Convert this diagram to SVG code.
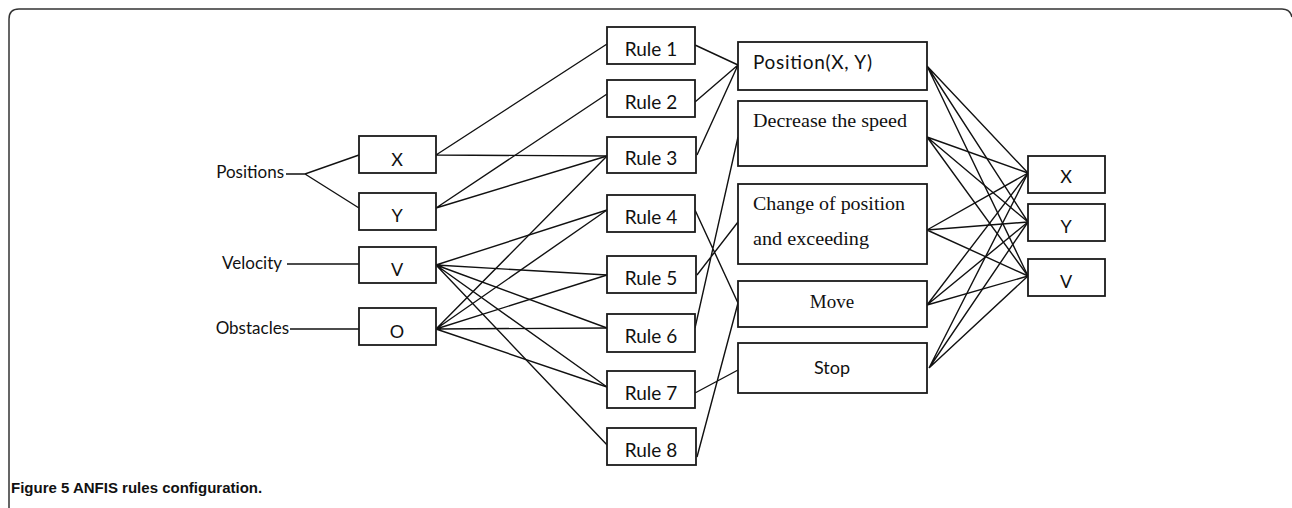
<svg xmlns="http://www.w3.org/2000/svg" width="1292" height="508" viewBox="0 0 1292 508">
<style>
.box{fill:#fff;stroke:#1a1a1a;stroke-width:1.8}
.ln{fill:none;stroke:#111;stroke-width:1.4}
.sans{font-family:Lato,"Open Sans","Liberation Sans",sans-serif;fill:#111}
.serif{font-family:"Liberation Serif","DejaVu Serif",serif;fill:#111}
.r{font-size:19px;text-anchor:middle}
.lbl{font-size:17px;text-anchor:end}
.io{font-size:18px;text-anchor:middle}
.cap{font-family:"Liberation Sans",Arial,sans-serif;font-weight:bold;font-size:15px;fill:#111}
</style>
<rect width="1292" height="508" fill="#fff"/>
<path d="M9,508 V19 Q9,9 19,9 H1282 Q1290,9 1292,17" fill="none" stroke="#333" stroke-width="1.5"/>
<g id="connectors" class="ln">
<path d="M286,174 H305 L359,155 M305,174 L359,208"/>
<path d="M287,264 H359"/>
<path d="M290,329 H359"/>
<path d="M436,155 L607,44 M436,155 L607,156"/>
<path d="M436,208 L607,94 M436,208 L607,156"/>
<path d="M436,265 L607,210 M436,265 L607,275 M436,265 L607,328 M436,265 L607,387 M436,265 L609,447"/>
<path d="M436,329 L607,156 M436,329 L607,210 M436,329 L607,275 M436,329 L607,328 M436,329 L607,387"/>
<path d="M695,45 L738,65 M695,102 L738,65 M697,155 L738,65"/>
<path d="M695,210 L738,303 M697,275 L738,222 M695,328 L738,137 M695,393 L738,370 M697,457 L738,303"/>
<path d="M927,66 L1028,173 M927,66 L1028,222 M927,66 L1028,276"/>
<path d="M927,137 L1028,173 M927,137 L1028,222 M927,137 L1028,276"/>
<path d="M927,230 L1028,173 M927,230 L1028,222 M927,230 L1028,276"/>
<path d="M927,305 L1028,173 M927,305 L1028,222 M927,305 L1028,276"/>
<path d="M929,368 L1028,173 M929,368 L1028,222 M929,368 L1028,276"/>
</g>
<g id="label-positions"><text class="sans lbl" x="284" y="178">Positions</text></g>
<g id="label-velocity"><text class="sans lbl" x="282" y="269">Velocity</text></g>
<g id="label-obstacles"><text class="sans lbl" x="289" y="334">Obstacles</text></g>
<g id="in-x"><rect class="box" x="359" y="136" width="77" height="37"/><text class="sans io" x="397" y="166">X</text></g>
<g id="in-y"><rect class="box" x="359" y="193" width="77" height="37"/><text class="sans io" x="397" y="222">Y</text></g>
<g id="in-v"><rect class="box" x="359" y="247" width="77" height="36"/><text class="sans io" x="397" y="276">V</text></g>
<g id="in-o"><rect class="box" x="359" y="308" width="77" height="37"/><text class="sans io" x="397" y="338">O</text></g>
<g id="rule1"><rect class="box" x="607" y="27" width="88" height="37"/><text class="sans r" x="651" y="56">Rule 1</text></g>
<g id="rule2"><rect class="box" x="607" y="80" width="88" height="37"/><text class="sans r" x="651" y="109">Rule 2</text></g>
<g id="rule3"><rect class="box" x="607" y="137" width="89" height="36"/><text class="sans r" x="651" y="165">Rule 3</text></g>
<g id="rule4"><rect class="box" x="607" y="195" width="88" height="37"/><text class="sans r" x="651" y="224">Rule 4</text></g>
<g id="rule5"><rect class="box" x="607" y="256" width="89" height="37"/><text class="sans r" x="651" y="285">Rule 5</text></g>
<g id="rule6"><rect class="box" x="607" y="314" width="88" height="38"/><text class="sans r" x="651" y="343">Rule 6</text></g>
<g id="rule7"><rect class="box" x="607" y="371" width="88" height="37"/><text class="sans r" x="651" y="400">Rule 7</text></g>
<g id="rule8"><rect class="box" x="607" y="428" width="89" height="37"/><text class="sans r" x="651" y="457">Rule 8</text></g>
<g id="out-position"><rect class="box" x="738" y="42" width="189" height="48"/><text class="sans" font-size="19" x="753" y="69" textLength="119" lengthAdjust="spacing">Position(X, Y)</text></g>
<g id="out-decrease"><rect class="box" x="738" y="101" width="189" height="65"/><text class="serif" font-size="19" x="753" y="127" textLength="154" lengthAdjust="spacingAndGlyphs">Decrease the speed</text></g>
<g id="out-change"><rect class="box" x="738" y="184" width="189" height="80"/><text class="serif" font-size="19" x="753" y="210" textLength="152" lengthAdjust="spacingAndGlyphs">Change of position</text><text class="serif" font-size="19" x="753" y="245" textLength="116" lengthAdjust="spacingAndGlyphs">and exceeding</text></g>
<g id="out-move"><rect class="box" x="738" y="281" width="189" height="46"/><text class="serif" font-size="19" x="832" y="308" text-anchor="middle">Move</text></g>
<g id="out-stop"><rect class="box" x="738" y="343" width="189" height="50"/><text class="sans" font-size="18" x="832" y="374" text-anchor="middle">Stop</text></g>
<g id="fin-x"><rect class="box" x="1028" y="156" width="77" height="37"/><text class="sans io" x="1066" y="183">X</text></g>
<g id="fin-y"><rect class="box" x="1028" y="204" width="77" height="37"/><text class="sans io" x="1066" y="233">Y</text></g>
<g id="fin-v"><rect class="box" x="1028" y="259" width="77" height="37"/><text class="sans io" x="1066" y="288">V</text></g>
<text class="cap" x="11" y="493">Figure 5 ANFIS rules configuration.</text>
</svg>
